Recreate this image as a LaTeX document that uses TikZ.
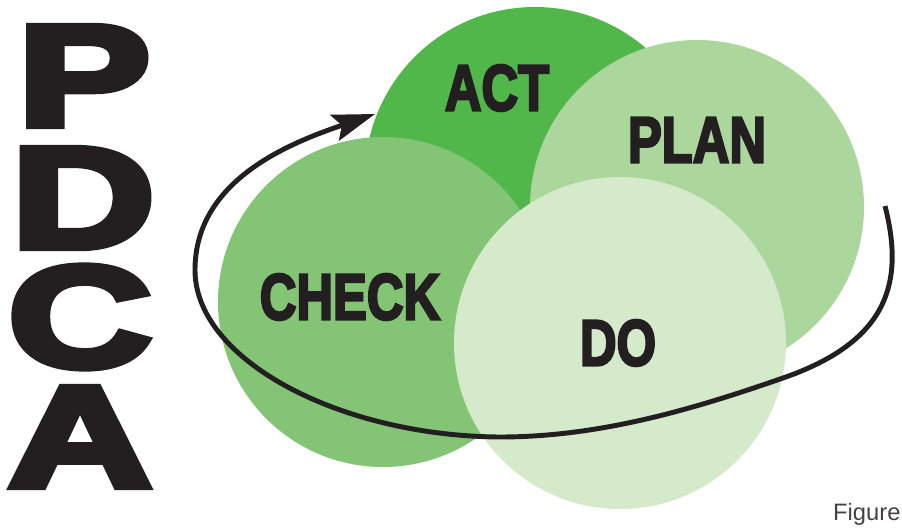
\documentclass[tikz,border=0pt]{standalone}
\usepackage{fontspec}
\setmainfont{Liberation Sans}
\newfontfamily\heavyfont{Liberation Sans Bold}[FakeBold=4]
\newfontfamily\blackfont{Liberation Sans Bold}[FakeBold=5]
\usetikzlibrary{arrows.meta}

\definecolor{actgreen}{HTML}{52B74A}
\definecolor{checkgreen}{HTML}{83C475}
\definecolor{plangreen}{HTML}{ABD79D}
\definecolor{dogreen}{HTML}{D4EACB}
\definecolor{inkblack}{HTML}{231F20}

\tikzset{
  phase/.style={font=\heavyfont\fontsize{37}{37}\selectfont, text=inkblack, xscale=0.78, inner sep=0pt},
  bigletter/.style={font=\blackfont\fontsize{82}{82}\selectfont, text=inkblack, xscale=1.38, inner sep=0pt}
}

\begin{document}
\begin{tikzpicture}
                    \useasboundingbox (0,0) rectangle (18.04,10.58);

                    % the four circles
                    \fill[actgreen] (10.70,7.04) circle (3.40cm);
                    \fill[checkgreen] (7.66,4.54) circle (3.30cm);
                    \fill[plangreen] (13.94,6.44) circle (3.34cm);
                    \fill[dogreen] (12.40,3.72) circle (3.32cm);

                    \node[phase] (act) at (9.94,8.82) {ACT};
                    \node[phase] (plan) at (13.94,7.78) {PLAN};
                    \node[phase] (check) at (7.00,4.64) {CHECK};
                    \node[phase] (do) at (12.36,3.72) {DO};

                    % big letters on the left
                    \node[bigletter] (p) at (1.68,9.06) {P};
                    \node[bigletter] (d) at (1.66,6.62) {D};
                    \node[bigletter] (c) at (1.60,4.24) {C};
                    \node[bigletter] (a) at (1.60,1.84) {A};

                    % cycle arrow
                    \coordinate (cycstart) at (17.70,6.46);
                    \coordinate (cycright) at (15.66,3.02);
                    \coordinate (cycbottom) at (10.00,1.84);
                    \coordinate (cycleft) at (3.90,5.18);
                    \coordinate (cyctip) at (7.50,8.30);
                    \draw[inkblack, line width=2.8pt, -{Stealth[length=0.85cm, width=0.54cm, inset=0.15cm]}]
                        (cycstart) .. controls (18.10,4.90) and (17.74,3.74) .. (cycright)
                        .. controls (13.88,2.40) and (12.00,1.84) .. (cycbottom)
                        .. controls (6.80,1.86) and (3.90,3.38) .. (cycleft)
                        .. controls (3.90,6.98) and (5.80,7.72) .. (cyctip);

                    \node[anchor=base west, font=\fontsize{13.5}{14}\selectfont, text=inkblack!85] (fig) at (16.54,0.18) {Figure};

                \end{tikzpicture}
\end{document}
